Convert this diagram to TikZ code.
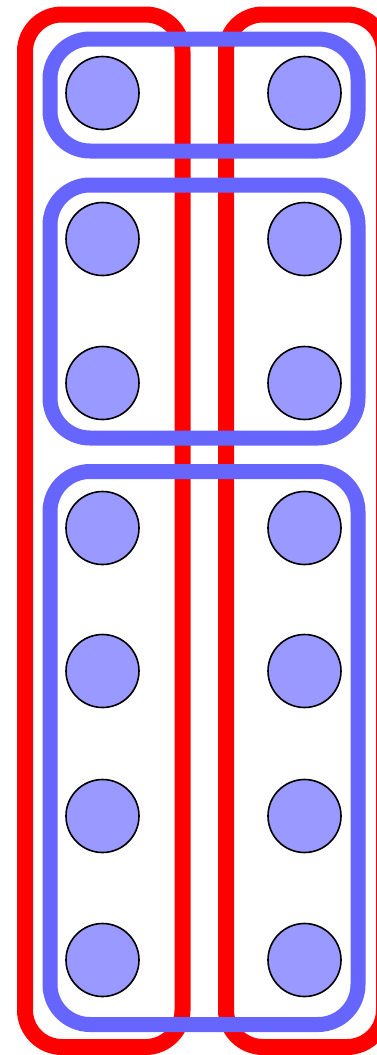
\documentclass[tikz,border=0pt]{standalone}
\begin{document}
\begin{tikzpicture}[x=1pt,y=-1pt,
  redgroup/.style={draw=red,line width=16pt,rounded corners=37pt},
  bluegroup/.style={draw=blue!60,line width=15pt,rounded corners=40pt},
  item/.style={circle,draw=black,line width=1.6pt,fill=blue!40,minimum size=73pt,inner sep=0pt}]
\useasboundingbox (0,0) rectangle (377,1055);
\clip (0,0) rectangle (377,1055);
% red groups
\draw[redgroup] (25,14.5) rectangle (182.5,1047);
\draw[redgroup] (226,14.5) rectangle (384,1047);
% blue groups
\draw[bluegroup] (50,39) rectangle (358,151);
\draw[bluegroup] (50,185) rectangle (358,438);
\draw[bluegroup] (50,471.5) rectangle (358,1024.5);
% circles
\foreach \i/\y in {1/93,2/239,3/383,4/528,5/671,6/816,7/960}{
  \node[item] (l\i) at (102.5,\y) {};
  \node[item] (r\i) at (304.5,\y) {};
}
\end{tikzpicture}
\end{document}
